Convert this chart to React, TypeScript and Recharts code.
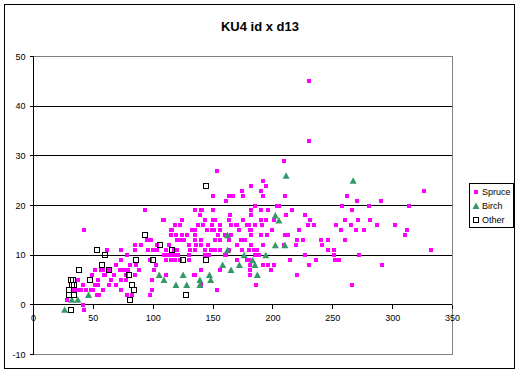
import React from 'react';
import { ScatterChart, Scatter, XAxis, YAxis, ReferenceLine, Legend } from 'recharts';

// ---- data: [d13, id] pairs per species ----
const SPRUCE: [number, number][] = [
  [326,23],[262,22],[270,21],[290,21],[258,20],[280,20],[314,20],[266,19],[260,17],[271,17],[281,17],[253,16],[265,16],[287,16],[302,16],[257,15],[269,15],[276,15],[312,15],[310,14],[246,13],[260,13],[246,11],[251,11],[332,11],[251,10],[272,10],[252,9],[255,9],[291,8],[266,4],
  [230,45],[230,33],
  [209,29],[192,25],[182,24],[194,24],[174,23],[190,23],[163,22],[167,22],[175,22],[192,22],[210,22],[161,21],[185,20],[203,20],[205,20],[182,19],[190,19],[196,19],[216,19],[164,18],[182,18],[211,18],[227,18],[163,17],[175,17],[190,17],[194,17],[201,17],[231,17],[165,16],[169,16],[170,16],[178,16],[180,16],[185,16],[191,16],[229,16],[234,16],[172,15],[181,15],[182,15],[199,15],[222,15],
  [165,14],[182,14],[190,14],[195,14],[210,14],[213,14],[163,13],[173,13],[177,13],[220,13],[225,13],[240,13],[170,12],[182,12],[192,12],[209,12],[219,12],[241,12],[163,11],[174,11],[180,11],[184,11],[187,11],[161,10],[185,10],[188,10],[227,10],[170,9],[178,9],[180,9],[214,9],[236,9],[181,8],[192,8],[196,8],[201,8],[230,8],[181,7],[198,7],[181,6],[220,6],[186,4],
  [153,27],[150,22],[93,19],[135,19],[140,19],[141,19],[150,19],[139,18],[108,17],[109,17],[124,17],[143,17],[150,17],[152,17],[118,16],[122,16],[137,16],[142,16],[149,16],[156,16],[115,15],[116,15],[132,15],[135,15],[145,15],[149,15],[151,15],[156,15],
  [115,14],[119,14],[124,14],[128,14],[135,14],[154,14],[160,14],
  [95,13],[98,13],[120,13],[123,13],[126,13],[135,13],[140,13],[152,13],[156,13],
  [85,12],[90,12],[103,12],[113,12],[130,12],[136,12],[140,12],[146,12],
  [85,11],[96,11],[100,11],[103,11],[111,11],[117,11],[119,11],[120,11],[131,11],[135,11],[143,11],[148,11],[152,11],[156,11],
  [78,10],[109,10],[112,10],[115,10],[117,10],[121,10],[130,10],[143,10],[147,10],[160,10],
  [97,9],[111,9],[115,9],[118,9],[122,9],[130,9],
  [81,8],[86,8],[102,8],
  [78,7],[88,7],[101,7],[140,7],[156,7],
  [85,6],[111,6],[134,6],[135,6],
  [99,5],[140,4],[153,3],[99,3],[78,2],[82,2],[97,2],
  [42,15],[61,11],[73,11],[73,9],[69,8],[51,7],[56,7],[58,7],[63,7],[72,7],[76,7],[79,7],[49,6],[59,6],[60,6],[67,6],[77,6],[37,5],[54,5],[65,5],[73,5],[77,5],[41,4],[51,4],[54,4],[63,4],[69,4],[33,3],[35,3],[38,3],[40,3],[44,3],[48,3],[50,3],[58,3],[73,3],[28,1],[41,0],[53,2],[55,2],[42,-1],
];

const BIRCH: [number, number][] = [
  [26,-1],[32,1],[37,1],[46,2],[105,6],[109,5],[119,4],[125,6],[128,4],[139,5],[139,4],[147,6],[148,5],[158,8],[165,7],[162,11],[162,14],[172,8],[176,10],[183,9],[185,8],[187,6],[194,10],[202,12],[210,12],[202,18],[205,17],[211,26],[267,25],
];

const OTHER: [number, number][] = [
  [31,-1],[30,2],[34,2],[30,3],[32,4],[34,4],[31,5],[33,5],[38,7],[47,5],[53,11],[60,10],[57,8],[63,7],[80,6],[82,4],[84,3],[81,1],[86,9],[100,9],[93,14],[106,12],[116,11],[125,9],[127,2],[144,9],[144,24],
];

const SERIES_NAMES = ['Spruce', 'Birch', 'Other'];
const X_TICKS = [0, 50, 100, 150, 200, 250, 300, 350];
const Y_TICKS = [-10, 0, 10, 20, 30, 40, 50];
const TITLE = 'KU4 id x d13';

// ---- layout / style ----
const W = 520;
const H = 374;
const MARGIN = { top: 56.5, right: 67.5, bottom: 0, left: 0.5 };
const Y_AXIS_W = 33;
const X_AXIS_H = 19.5;
const X_DOMAIN: [number, number] = [0, 350];
const Y_DOMAIN: [number, number] = [-10, 50];
const PLOT_H = H - MARGIN.top - MARGIN.bottom - X_AXIS_H;
const ZERO_OFFSET = (PLOT_H * (0 - Y_DOMAIN[0])) / (Y_DOMAIN[1] - Y_DOMAIN[0]);
const FONT = '"Liberation Sans", Arial, sans-serif';
const MAGENTA = '#FF00FF';
const GREEN = '#339966';
const GRAY = '#808080';

const toPts = (arr: [number, number][]) => arr.map(([x, y]) => ({ x, y }));

const SpruceMark = (p: any) => (
  <rect x={p.cx - 2} y={p.cy - 2} width={4} height={4} fill={MAGENTA} shapeRendering="crispEdges" />
);
const BirchMark = (p: any) => (
  <polygon
    points={`${p.cx},${p.cy - 3.5} ${p.cx + 3.5},${p.cy + 3} ${p.cx - 3.5},${p.cy + 3}`}
    fill={GREEN}
  />
);
const OtherMark = (p: any) => (
  <rect x={p.cx - 2.5} y={p.cy - 2.5} width={5} height={5} fill="none" stroke="#000" strokeWidth={1} shapeRendering="crispEdges" />
);

const XTick = (props: any) => {
  const { x, y, payload } = props;
  const y0 = y - ZERO_OFFSET;
  return (
    <g>
      <line x1={x} x2={x} y1={y0} y2={y0 + 4} stroke="#000" shapeRendering="crispEdges" />
      <text x={x} y={y0 + 16} textAnchor="middle" fontSize={9} fontFamily={FONT} fill="#000">
        {payload.value}
      </text>
    </g>
  );
};

const LegendBox = () => {
  const marks = [
    <rect key="s" x={4} y={-2} width={4} height={4} fill={MAGENTA} shapeRendering="crispEdges" />,
    <polygon key="b" points="6,-3.5 9.5,3 2.5,3" fill={GREEN} />,
    <rect key="o" x={3.5} y={-2.5} width={5} height={5} fill="none" stroke="#000" shapeRendering="crispEdges" />,
  ];
  return (
    <div
      style={{
        boxSizing: 'border-box',
        width: 45,
        height: 45,
        border: '1px solid #000',
        background: '#fff',
        fontFamily: FONT,
        fontSize: 9,
        color: '#000',
        position: 'relative',
      }}
    >
      {SERIES_NAMES.map((name, i) => (
        <div key={name} style={{ position: 'absolute', left: 0, top: 1 + i * 14, height: 14, width: 43 }}>
          <svg width={12} height={14} style={{ position: 'absolute', left: 0, top: 0 }}>
            <g transform="translate(0,7)">{marks[i]}</g>
          </svg>
          <span style={{ position: 'absolute', left: 12, top: 0, lineHeight: '14px', whiteSpace: 'nowrap' }}>{name}</span>
        </div>
      ))}
    </div>
  );
};

export default function App() {
  return (
    <div style={{ position: 'absolute', left: 0, top: 0, width: W, height: H, background: '#fff', fontFamily: FONT }}>
      <ScatterChart width={W} height={H} margin={MARGIN}>
        <XAxis
          dataKey="x"
          type="number"
          domain={X_DOMAIN}
          ticks={X_TICKS}
          interval={0}
          height={X_AXIS_H}
          axisLine={{ stroke: GRAY, shapeRendering: 'crispEdges' }}
          tickLine={false}
          tickSize={0}
          tickMargin={0}
          tick={<XTick />}
        />
        <YAxis
          dataKey="y"
          type="number"
          domain={Y_DOMAIN}
          ticks={Y_TICKS}
          interval={0}
          width={Y_AXIS_W}
          axisLine={{ stroke: '#000', shapeRendering: 'crispEdges' }}
          tickLine={{ stroke: '#000', shapeRendering: 'crispEdges' }}
          tickSize={4}
          tickMargin={4}
          tick={{ fill: '#000', fontSize: 9, fontFamily: FONT }}
        />
        {Y_TICKS.filter((v) => v > Y_DOMAIN[0]).map((v) => (
          <ReferenceLine
            key={`h${v}`}
            y={v}
            stroke={v === Y_DOMAIN[1] ? GRAY : '#000'}
            strokeWidth={1}
            shapeRendering="crispEdges"
          />
        ))}
        <ReferenceLine x={X_DOMAIN[1]} stroke={GRAY} strokeWidth={1} shapeRendering="crispEdges" />
        <Legend
          layout="vertical"
          align="center"
          verticalAlign="middle"
          content={() => <LegendBox />}
          wrapperStyle={{ left: 469, top: 183, width: 45, height: 45 }}
        />
        <Scatter name={SERIES_NAMES[0]} data={toPts(SPRUCE)} shape={SpruceMark} isAnimationActive={false} />
        <Scatter name={SERIES_NAMES[1]} data={toPts(BIRCH)} shape={BirchMark} isAnimationActive={false} />
        <Scatter name={SERIES_NAMES[2]} data={toPts(OTHER)} shape={OtherMark} isAnimationActive={false} />
      </ScatterChart>
      <div
        style={{
          position: 'absolute',
          left: 0,
          top: 20,
          width: W,
          textAlign: 'center',
          fontWeight: 'bold',
          fontSize: 13,
          lineHeight: '13px',
          color: '#000',
          fontFamily: FONT,
        }}
      >
        {TITLE}
      </div>
      <div
        style={{
          position: 'absolute',
          left: 4,
          top: 4,
          width: 511,
          height: 365,
          boxSizing: 'border-box',
          border: '1px solid #000',
          pointerEvents: 'none',
        }}
      />
    </div>
  );
}
